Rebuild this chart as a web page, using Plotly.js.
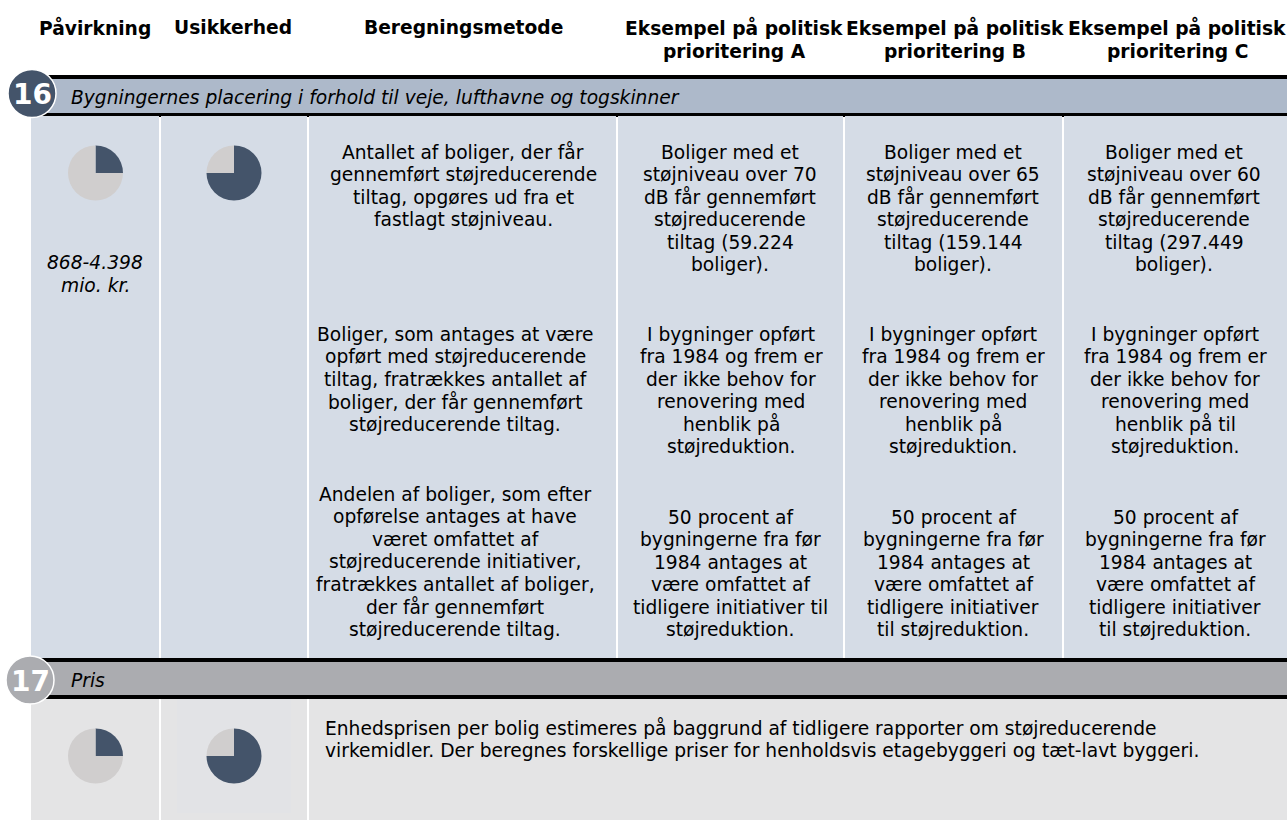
<!DOCTYPE html>
<html><head><meta charset="utf-8">
<script src="https://cdn.plot.ly/plotly-3.0.1.min.js"></script>
<style>html,body{margin:0;padding:0;background:#fff;overflow:hidden}#c{width:1287px;height:820px}</style>
</head><body><div id="c"></div>
<script>
const headers = [
  {x:95, lines:["Påvirkning"]},
  {x:233, lines:["Usikkerhed"]},
  {x:463, lines:["Beregningsmetode"]},
  {x:734, lines:["Eksempel på politisk","prioritering A"]},
  {x:955, lines:["Eksempel på politisk","prioritering B"]},
  {x:1177, lines:["Eksempel på politisk","prioritering C"]}
];
const section16Title = "Bygningernes placering i forhold til veje, lufthavne og togskinner";
const section17Title = "Pris";
const impactValues = [25, 75];
const uncertaintyValues = [75, 25];
const impactRange = ["868-4.398","mio. kr."];
const method1 = ["Antallet af boliger, der får","gennemført støjreducerende","tiltag, opgøres ud fra et","fastlagt støjniveau."];
const method2 = ["Boliger, som antages at være","opført med støjreducerende","tiltag, fratrækkes antallet af","boliger, der får gennemført","støjreducerende tiltag."];
const method3 = ["Andelen af boliger, som efter","opførelse antages at have","været omfattet af","støjreducerende initiativer,","fratrækkes antallet af boliger,","der får gennemført","støjreducerende tiltag."];
const a1 = ["Boliger med et","støjniveau over 70","dB får gennemført","støjreducerende","tiltag (59.224","boliger)."];
const b1 = ["Boliger med et","støjniveau over 65","dB får gennemført","støjreducerende","tiltag (159.144","boliger)."];
const c1 = ["Boliger med et","støjniveau over 60","dB får gennemført","støjreducerende","tiltag (297.449","boliger)."];
const a2 = ["I bygninger opført","fra 1984 og frem er","der ikke behov for","renovering med","henblik på","støjreduktion."];
const c2 = ["I bygninger opført","fra 1984 og frem er","der ikke behov for","renovering med","henblik på til","støjreduktion."];
const a3 = ["50 procent af","bygningerne fra før","1984 antages at","være omfattet af","tidligere initiativer til","støjreduktion."];
const b3 = ["50 procent af","bygningerne fra før","1984 antages at","være omfattet af","tidligere initiativer","til støjreduktion."];
const priceText = ["Enhedsprisen per bolig estimeres på baggrund af tidligere rapporter om støjreducerende","virkemidler. Der beregnes forskellige priser for henholdsvis etagebyggeri og tæt-lavt byggeri."];

const W=1287,H=820,FONT='"DejaVu Sans", Verdana, sans-serif',SIZE=18.67,STEP=22.5,DARK='#44546a',LIGHT='#d0cece';
const cells = [
  {x:463,y:152,l:method1},{x:455,y:334,l:method2},{x:455,y:494,l:method3},
  {x:730,y:152,l:a1},{x:731,y:334,l:a2},{x:730,y:517,l:a3},
  {x:953,y:152,l:b1},{x:953,y:334,l:a2},{x:953,y:517,l:b3},
  {x:1174,y:152,l:c1},{x:1175,y:334,l:c2},{x:1175,y:517,l:b3}
];
const ann=[];
function txt(x,y,t,o){ann.push(Object.assign({x:x,y:y,xref:'x',yref:'y',text:t,showarrow:false,xanchor:'center',yanchor:'middle',
  font:{family:FONT,size:SIZE,color:'#000'}},o||{}));}
headers.forEach(h=>h.lines.forEach((t,i)=>txt(h.x,27+i*24,'<b>'+t+'</b>')));
cells.forEach(c=>c.l.forEach((t,i)=>txt(c.x,c.y+i*STEP,t)));
impactRange.forEach((t,i)=>txt(95,262+i*23,'<i>'+t+'</i>'));
txt(69,97,'<i>'+section16Title+'</i>',{xanchor:'left'});
txt(69,680,'<i>'+section17Title+'</i>',{xanchor:'left'});
priceText.forEach((t,i)=>txt(323,728+i*22.5,t,{xanchor:'left'}));
txt(32,94,'<b>16</b>',{font:{family:FONT,size:28,color:'#fff'}});
txt(30,681,'<b>17</b>',{font:{family:FONT,size:28,color:'#fff'}});

function rect(x0,y0,x1,y1,c){return {type:'rect',xref:'x',yref:'y',x0,y0,x1,y1,fillcolor:c,line:{width:0},layer:'below'};}
function circle(cx,cy,r,c){return {type:'circle',xref:'x',yref:'y',x0:cx-r,x1:cx+r,y0:cy-r,y1:cy+r,fillcolor:c,line:{color:'#fff',width:1.5},layer:'below'};}
const dividers=[[159,161],[307,309],[616,618],[843,845],[1062,1064]];
const shapes=[
  rect(31,116,W,658,'#d5dce6'),
  rect(31,699,W,820,'#e4e4e5'),
  rect(177,699,291,813,'#e2e3e6'),
  rect(31,75,W,116,'#000'),rect(45,79,W,113,'#adb9ca'),
  rect(31,658,W,699,'#000'),rect(45,662,W,695,'#abacb0')
];
dividers.forEach(d=>{shapes.push(rect(d[0],117,d[1],658,'#fff'));shapes.push(rect(d[0],116,d[1],117,'#000'));});
dividers.slice(0,2).forEach(d=>shapes.push(rect(d[0],699,d[1],820,'#fff')));
shapes.push(circle(32,93.5,24,'#44546a'));
shapes.push(circle(30,680,24,'#abacb0'));

function pie(vals,cx,cy,r){return {type:'pie',values:vals,sort:false,direction:'clockwise',rotation:0,textinfo:'none',hoverinfo:'skip',showlegend:false,
  marker:{colors:[DARK,LIGHT],line:{width:0}},
  domain:{x:[(cx-r)/W,(cx+r)/W],y:[1-(cy+r)/H,1-(cy-r)/H]}};}
const data=[pie(impactValues,95.5,173,27.5),pie(uncertaintyValues,234,173,27.5),pie(impactValues,95.5,756,27.5),pie(uncertaintyValues,234,756,27.5)];
Plotly.newPlot('c',data,{width:W,height:H,margin:{l:0,r:0,t:0,b:0},paper_bgcolor:'#fff',plot_bgcolor:'rgba(0,0,0,0)',
  xaxis:{range:[0,W],visible:false,fixedrange:true},yaxis:{range:[H,0],visible:false,fixedrange:true},
  shapes:shapes,annotations:ann},{displayModeBar:false,staticPlot:true});
</script></body></html>
